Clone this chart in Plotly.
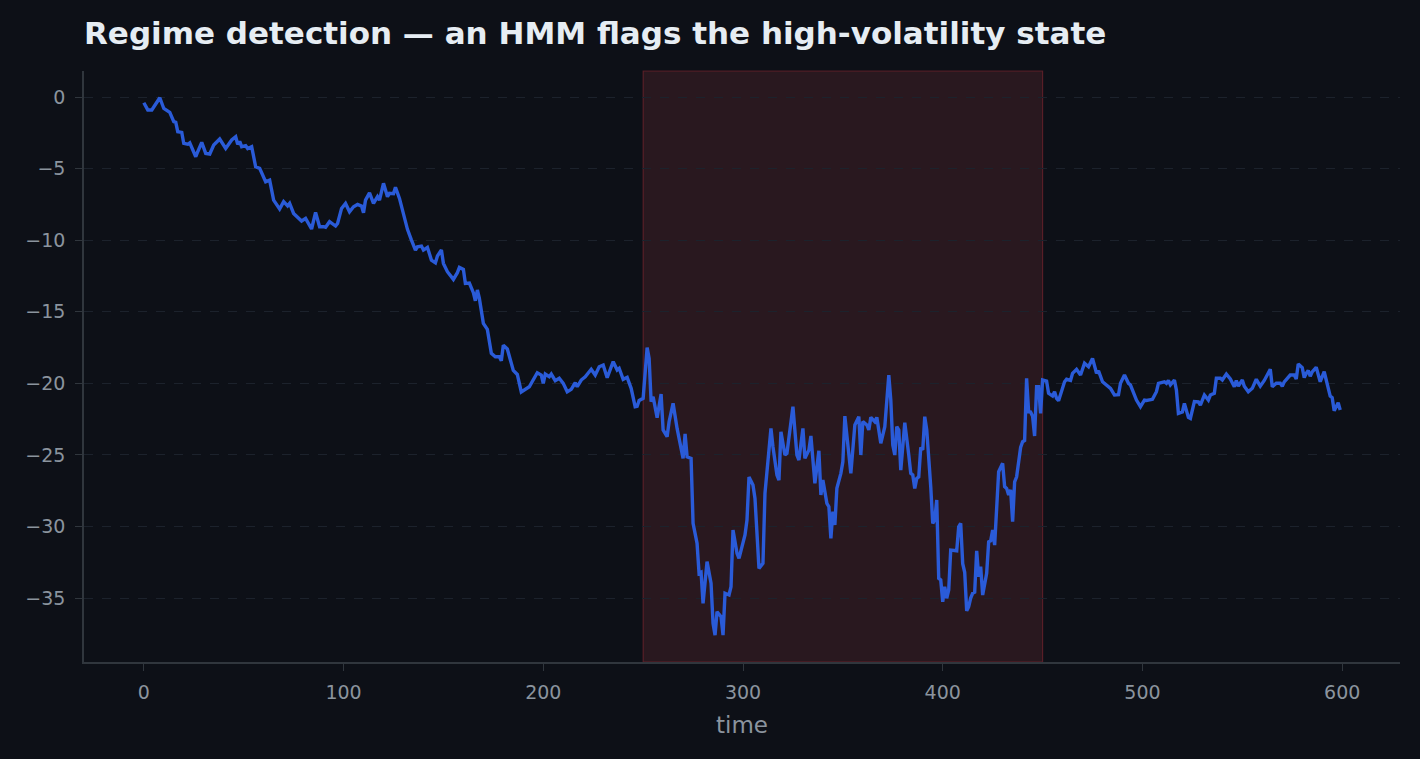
import plotly.graph_objects as go

# ---- data ----
time = [0, 2, 4, 8, 10, 13, 15, 16, 17, 19, 20, 22, 23, 26, 27, 29, 31, 33, 35, 38,
        41, 43, 44, 46, 47, 48, 49, 51, 52, 54, 56, 58, 61, 63, 65, 68, 70, 72, 73, 75,
        77, 79, 81, 82, 84, 86, 88, 90, 91, 93, 96, 97, 99, 101, 103, 105, 107, 109, 110, 111,
        113, 115, 117, 118, 119, 120, 122, 123, 125, 126, 128, 130, 132, 134, 136, 137, 139, 140, 142, 144,
        146, 147, 149, 150, 152, 155, 157, 158, 160, 161, 163, 165, 166, 167, 168, 170, 172, 174, 176, 178,
        179, 180, 182, 185, 187, 189, 192, 193, 197, 199, 200, 201, 203, 204, 206, 208, 210, 212, 214, 216,
        217, 219, 221, 224, 226, 228, 230, 232, 235, 237, 238, 240, 242, 244, 246, 247, 248, 250, 252, 253,
        254, 255, 257, 259, 260, 262, 263, 265, 267, 269, 270, 271, 272, 274, 275, 277, 278, 279, 280, 282,
        284, 285, 286, 287, 289, 290, 291, 293, 294, 295, 297, 298, 300, 301, 302, 303, 305, 306, 308, 310,
        311, 313, 314, 315, 317, 318, 319, 321, 322, 325, 327, 328, 330, 331, 333, 334, 336, 338, 339, 340,
        342, 343, 344, 345, 346, 347, 349, 350, 351, 354, 356, 358, 359, 360, 362, 363, 364, 366, 367, 369,
        371, 373, 374, 375, 376, 377, 378, 379, 380, 381, 383, 384, 385, 386, 387, 388, 389, 390, 391, 392,
        394, 395, 396, 397, 398, 399, 400, 401, 402, 403, 404, 406, 407, 408, 409, 410, 411, 412, 413, 414,
        415, 416, 417, 418, 419, 420, 422, 423, 424, 425, 426, 428, 430, 431, 432, 433, 434, 435, 436, 437,
        439, 440, 441, 442, 443, 444, 445, 446, 447, 448, 449, 450, 452, 453, 455, 456, 457, 458, 461, 462,
        464, 465, 467, 469, 471, 473, 475, 477, 478, 480, 482, 484, 486, 488, 489, 491, 493, 494, 497, 499,
        501, 502, 505, 507, 508, 511, 512, 513, 514, 516, 517, 518, 520, 521, 523, 524, 526, 528, 529, 531,
        533, 534, 536, 537, 539, 540, 542, 544, 546, 547, 548, 550, 551, 553, 555, 557, 559, 561, 564, 565,
        567, 569, 570, 571, 574, 576, 577, 578, 580, 581, 582, 583, 584, 585, 587, 589, 591, 592, 594, 595,
        596, 598, 599]

value = [-0.4, -0.9, -0.9, -0.05, -0.8, -1.07, -1.72, -1.77, -2.42, -2.47, -3.24, -3.3, -3.2, -4.17, -3.82, -3.17, -3.94, -3.98, -3.35, -2.93,
         -3.59, -3.24, -3.0, -2.77, -3.3, -3.1, -3.47, -3.4, -3.6, -3.47, -4.87, -4.98, -5.92, -5.8, -7.2, -7.82, -7.31, -7.6, -7.43, -8.13,
         -8.43, -8.66, -8.48, -8.7, -9.22, -8.06, -9.06, -9.06, -9.1, -8.71, -9.01, -8.83, -7.78, -7.43, -8.01, -7.66, -7.5, -7.62, -8.08, -7.2,
         -6.69, -7.43, -6.96, -7.2, -6.5, -6.03, -6.96, -6.73, -6.75, -6.31, -7.08, -8.13, -9.24, -9.99, -10.69, -10.46, -10.41, -10.69, -10.5, -11.39,
         -11.58, -11.1, -10.69, -11.62, -12.2, -12.74, -12.27, -11.9, -12.04, -13.02, -13.0, -13.67, -14.23, -13.48, -14.07, -15.81, -16.23, -17.91, -18.14, -18.14,
         -18.42, -17.33, -17.6, -19.1, -19.38, -20.6, -20.35, -20.24, -19.26, -19.42, -20.0, -19.35, -19.54, -19.35, -19.82, -19.65, -20.0, -20.59, -20.42, -19.96,
         -20.24, -19.77, -19.54, -19.02, -19.42, -18.84, -18.72, -19.61, -18.49, -19.07, -18.95, -19.72, -19.58, -20.35, -21.63, -21.6, -21.2, -21.05, -17.5, -18.26,
         -21.28, -20.94, -22.4, -20.75, -23.26, -23.73, -22.68, -21.4, -23.15, -24.54, -25.24, -23.54, -25.13, -25.24, -29.78, -31.18, -33.28, -33.2, -35.37, -32.46,
         -33.97, -36.77, -37.59, -35.96, -36.31, -37.59, -34.67, -34.79, -34.21, -30.25, -31.88, -32.23, -31.18, -30.6, -29.55, -26.55, -27.11, -28.04, -32.93, -32.58,
         -27.69, -24.89, -23.15, -24.43, -26.41, -26.76, -23.38, -25.01, -24.89, -21.63, -25.01, -25.36, -23.15, -25.24, -24.66, -23.68, -26.99, -24.71, -27.8, -26.76,
         -28.39, -28.62, -30.83, -28.97, -29.9, -27.34, -26.29, -25.48, -22.29, -26.29, -22.91, -22.33, -25.01, -22.68, -22.91, -23.26, -22.38, -22.68, -22.38, -24.19,
         -23.03, -19.42, -21.17, -24.31, -25.01, -23.03, -23.26, -26.06, -23.96, -22.75, -25.01, -26.29, -26.4, -27.34, -26.64, -26.53, -24.48, -24.66, -22.33, -23.26,
         -27.22, -29.78, -29.55, -28.15, -33.63, -33.74, -35.26, -34.21, -35.02, -34.44, -31.65, -31.65, -31.7, -30.02, -29.78, -32.6, -33.2, -35.9, -35.6, -35.0,
         -34.67, -34.6, -31.7, -33.51, -32.81, -34.79, -33.28, -31.07, -31.0, -30.25, -31.3, -26.18, -25.59, -27.22, -27.34, -27.8, -27.45, -29.67, -26.88, -26.53,
         -24.48, -24.08, -24.0, -19.65, -21.98, -22.0, -22.3, -23.68, -20.24, -20.24, -22.1, -19.77, -19.85, -20.7, -20.89, -20.59, -21.05, -21.21, -19.89, -19.72,
         -19.8, -19.3, -19.02, -19.42, -18.6, -18.84, -18.26, -19.3, -19.12, -19.89, -20.12, -20.35, -20.82, -20.8, -20.0, -19.42, -20.0, -20.12, -21.17, -21.63,
         -21.17, -21.2, -21.12, -20.59, -20.0, -19.89, -20.0, -19.8, -20.1, -19.77, -20.47, -22.1, -22.0, -21.4, -22.38, -22.45, -21.28, -21.3, -21.52, -20.82,
         -21.17, -20.82, -20.7, -19.65, -19.65, -19.77, -19.35, -19.7, -20.24, -19.8, -20.2, -19.77, -20.2, -20.59, -20.35, -19.72, -20.2, -19.8, -19.02, -20.24,
         -20.0, -20.0, -20.2, -19.9, -19.42, -19.42, -19.7, -18.65, -18.9, -19.6, -19.3, -19.1, -19.5, -19.2, -18.88, -19.89, -19.19, -19.8, -20.89, -21.0,
         -21.91, -21.35, -21.86]

regime_start = 250
regime_end = 450

x_ticks = [0, 100, 200, 300, 400, 500, 600]
y_ticks = [-35, -30, -25, -20, -15, -10, -5, 0]
y_tick_text = ["−35", "−30", "−25", "−20", "−15", "−10", "−5", "0"]

title_text = "Regime detection — an HMM flags the high-volatility state"
x_label = "time"

# ---- style ----
BG = "#0d1017"
GRID = "#1c222c"
SPINE = "#30363d"
TICKFONT = "#8b949e"
TITLEFONT = "#e6edf3"
LINE = "#2a5bd8"

fig = go.Figure()
fig.add_trace(go.Scatter(x=time, y=value, mode="lines",
                         line=dict(color=LINE, width=3.4), hoverinfo="skip",
                         showlegend=False))

fig.add_shape(type="rect", xref="x", yref="paper", x0=regime_start, x1=regime_end,
              y0=0, y1=1, fillcolor="rgba(215,75,85,0.14)",
              line=dict(color="rgba(200,50,60,0.35)", width=1.2), layer="below")

fig.update_layout(
    width=1420, height=759,
    margin=dict(l=84, r=20, t=71, b=97),
    paper_bgcolor=BG, plot_bgcolor=BG,
    font=dict(family="DejaVu Sans", color=TICKFONT, size=19),
    title=dict(text="<b>" + title_text + "</b>", x=84 / 1420, xanchor="left",
               xref="container", y=1 - 33 / 759, yanchor="middle", yref="container",
               font=dict(family="DejaVu Sans", size=31, color=TITLEFONT)),
    xaxis=dict(range=[-29.95, 628.95], tickvals=x_ticks, showgrid=False, zeroline=False,
               showline=True, linecolor=SPINE, linewidth=1.5,
               ticks="outside", ticklen=7, tickwidth=1.2, tickcolor=SPINE,
               ticklabelstandoff=5,
               tickfont=dict(size=19, color=TICKFONT),
               title=dict(text=x_label, font=dict(size=23, color=TICKFONT), standoff=15)),
    yaxis=dict(range=[-39.47, 1.82], tickvals=y_ticks, ticktext=y_tick_text,
               showgrid=True, gridcolor=GRID, griddash="dash", gridwidth=1,
               zeroline=False, showline=True, linecolor=SPINE, linewidth=1.5,
               ticks="outside", ticklen=7, tickwidth=1.2, tickcolor=SPINE,
               ticklabelstandoff=6,
               tickfont=dict(size=19, color=TICKFONT)),
)

fig.write_html("out.html")
